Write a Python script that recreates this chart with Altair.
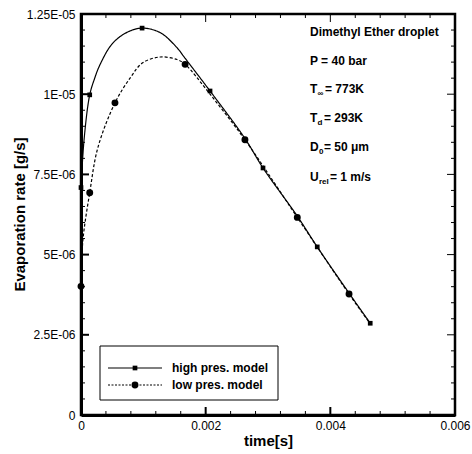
import altair as alt
import pandas as pd

series_names = ["high pres. model", "low pres. model"]

# curve samples (time in s, evaporation rate in g/s)
high_t = [0.0, 0.00005, 0.00014, 0.00022, 0.00030, 0.00050, 0.00074, 0.00098, 0.00127, 0.00154,
          0.00167, 0.00207, 0.00263, 0.00292, 0.00347, 0.00379, 0.00430, 0.00464]
high_v = [7.09e-6, 8.60e-6, 9.98e-6, 10.50e-6, 10.90e-6, 11.57e-6, 11.93e-6, 12.06e-6, 11.92e-6, 11.45e-6,
          11.12e-6, 10.10e-6, 8.62e-6, 7.70e-6, 6.20e-6, 5.24e-6, 3.80e-6, 2.86e-6]
low_t = [0.0, 0.00003, 0.00014, 0.00027, 0.000545, 0.00079, 0.00099, 0.00127, 0.00154,
         0.00167, 0.00207, 0.00263, 0.00347, 0.00430, 0.00462]
low_v = [4.01e-6, 5.44e-6, 6.93e-6, 8.33e-6, 9.73e-6, 10.51e-6, 10.98e-6, 11.16e-6, 11.08e-6,
         10.93e-6, 10.00e-6, 8.58e-6, 6.16e-6, 3.77e-6, 2.90e-6]

# symbols
high_mark_t = [0.0, 0.00014, 0.00098, 0.00207, 0.00292, 0.00379, 0.00464]
high_mark_v = [7.09e-6, 9.98e-6, 12.06e-6, 10.10e-6, 7.70e-6, 5.24e-6, 2.86e-6]
low_mark_t = [0.0, 0.00014, 0.000545, 0.00167, 0.00263, 0.00347, 0.00430]
low_mark_v = [4.01e-6, 6.93e-6, 9.73e-6, 10.93e-6, 8.58e-6, 6.16e-6, 3.77e-6]

# axes
x_major = [0.0, 0.002, 0.004, 0.006]
x_labels = ["0", "0.002", "0.004", "0.006"]
x_minor = [0.0004, 0.0008, 0.0012, 0.0016, 0.0024, 0.0028, 0.0032, 0.0036,
           0.0044, 0.0048, 0.0052, 0.0056]
y_major = [0.0, 2.5e-6, 5e-6, 7.5e-6, 1e-5, 1.25e-5]
y_labels = ["0", "2.5E-06", "5E-06", "7.5E-06", "1E-05", "1.25E-05"]
y_minor = [0.5e-6, 1.0e-6, 1.5e-6, 2.0e-6, 3.0e-6, 3.5e-6, 4.0e-6, 4.5e-6,
           5.5e-6, 6.0e-6, 6.5e-6, 7.0e-6, 8.0e-6, 8.5e-6, 9.0e-6, 9.5e-6,
           10.5e-6, 11.0e-6, 11.5e-6, 12.0e-6]

# annotation lines: (main, subscript, rest)
notes = [("Dimethyl Ether droplet", "", ""),
         ("P  = 40 bar", "", ""),
         ("T", "\u221e", "= 773K"),
         ("T", "d", "= 293K"),
         ("D", "0", "= 50 \u03bcm"),
         ("U", "rel", "= 1 m/s")]

FONT = "Liberation Sans"

curves = pd.concat([
    pd.DataFrame({"t": high_t, "v": high_v, "series": series_names[0]}),
    pd.DataFrame({"t": low_t, "v": low_v, "series": series_names[1]}),
])
marks = pd.concat([
    pd.DataFrame({"t": high_mark_t, "v": high_mark_v, "series": series_names[0]}),
    pd.DataFrame({"t": low_mark_t, "v": low_mark_v, "series": series_names[1]}),
])

def label_expr(vals, labs):
    return "[" + ",".join("'%s'" % s for s in labs) + "][indexof([" + \
        ",".join(repr(v) for v in vals) + "], datum.value)]"

xscale = alt.Scale(domain=[0, 0.006], nice=False, zero=False)
yscale = alt.Scale(domain=[0, 1.25e-5], nice=False, zero=False)

x_enc = alt.X("t:Q", scale=xscale, axis=alt.Axis(
    values=x_major, labelExpr=label_expr(x_major, x_labels), ticks=False, grid=False,
    domain=True, domainWidth=3, domainColor="black", labelFlush=False,
    labelFont=FONT, labelFontSize=12, labelColor="black", labelPadding=5,
    title="time[s]", titleFont=FONT, titleFontSize=15, titleFontWeight="bold",
    titleColor="black", titleBaseline="middle", titleY=25))
y_enc = alt.Y("v:Q", scale=yscale, axis=alt.Axis(
    values=y_major, labelExpr=label_expr(y_major, y_labels), ticks=False, grid=False,
    domain=True, domainWidth=3, domainColor="black",
    labelFont=FONT, labelFontSize=12, labelColor="black", labelPadding=6,
    title="Evaporation rate [g/s]", titleFont=FONT, titleFontSize=15, titleFontWeight="bold",
    titleColor="black", titleAngle=270, titleBaseline="middle", titleX=-62, titleY=200))

lines = alt.Chart(curves).mark_line(interpolate="catmull-rom", color="black", strokeWidth=1.2).encode(
    x=x_enc, y=y_enc,
    strokeDash=alt.StrokeDash("series:N", scale=alt.Scale(domain=series_names, range=[[1, 0], [3, 2]]),
                              legend=None),
    detail="series:N")

points = alt.Chart(marks).mark_point(filled=True, color="black", opacity=1).encode(
    x=alt.X("t:Q", scale=xscale), y=alt.Y("v:Q", scale=yscale),
    shape=alt.Shape("series:N", scale=alt.Scale(domain=series_names, range=["square", "circle"]), legend=None),
    size=alt.Size("series:N", scale=alt.Scale(domain=series_names, range=[22, 48]), legend=None))

# tick marks (inward, all four sides)
def yticks(vals, length, width):
    d = pd.DataFrame({"v": vals})
    left = alt.Chart(d).mark_rule(color="black", strokeWidth=width).encode(
        y=alt.Y("v:Q", scale=yscale), x=alt.value(0), x2=alt.value(length))
    right = alt.Chart(d).mark_rule(color="black", strokeWidth=1).encode(
        y=alt.Y("v:Q", scale=yscale), x=alt.value(374), x2=alt.value(374 - length))
    return [left, right]

def xticks(vals, length, width):
    d = pd.DataFrame({"t": vals})
    bottom = alt.Chart(d).mark_rule(color="black", strokeWidth=width).encode(
        x=alt.X("t:Q", scale=xscale), y=alt.value(401), y2=alt.value(401 - length))
    top = alt.Chart(d).mark_rule(color="black", strokeWidth=1).encode(
        x=alt.X("t:Q", scale=xscale), y=alt.value(0), y2=alt.value(length))
    return [bottom, top]

ticks = yticks(y_major, 8, 2) + yticks(y_minor, 4, 1) + xticks(x_major, 8, 2) + xticks(x_minor, 4, 1)

# annotation text
ann = []
row_y = [18, 47, 75, 104, 133, 163]
sub_x = [0, 0, 236.5, 236.5, 238, 238]
rest_x = [0, 0, 244, 243, 243, 249]
for i, (main, sub, rest) in enumerate(notes):
    d = pd.DataFrame({"s": [main]})
    ann.append(alt.Chart(d).mark_text(align="left", baseline="middle", font=FONT, fontSize=12,
                                       fontWeight="bold", color="black").encode(
        x=alt.value(229), y=alt.value(row_y[i]), text="s:N"))
    if sub:
        ann.append(alt.Chart(pd.DataFrame({"s": [sub]})).mark_text(
            align="left", baseline="middle", font=FONT, fontSize=8, fontWeight="bold", color="black").encode(
            x=alt.value(sub_x[i]), y=alt.value(row_y[i] + 5), text="s:N"))
        ann.append(alt.Chart(pd.DataFrame({"s": [rest]})).mark_text(
            align="left", baseline="middle", font=FONT, fontSize=12, fontWeight="bold", color="black").encode(
            x=alt.value(rest_x[i]), y=alt.value(row_y[i]), text="s:N"))

# legend box
leg_df = pd.DataFrame({"series": series_names})
leg_box = alt.Chart(leg_df.head(1)).mark_rect(fill="white", stroke="black", strokeWidth=1).encode(
    x=alt.value(19), x2=alt.value(197), y=alt.value(332), y2=alt.value(386))
leg_items = []
leg_y = [354, 371]
leg_dash = [[1, 0], [2, 1.5]]
leg_shape = ["square", "circle"]
leg_size = [22, 48]
for i, name in enumerate(series_names):
    d = pd.DataFrame({"s": [name]})
    leg_items.append(alt.Chart(d).mark_rule(color="black", strokeWidth=1.2, strokeDash=leg_dash[i]).encode(
        x=alt.value(27), x2=alt.value(81), y=alt.value(leg_y[i])))
    leg_items.append(alt.Chart(d).mark_point(filled=True, color="black", opacity=1, shape=leg_shape[i],
                                             size=leg_size[i]).encode(
        x=alt.value(54), y=alt.value(leg_y[i])))
    leg_items.append(alt.Chart(d).mark_text(align="left", baseline="middle", font=FONT, fontSize=12,
                                            fontWeight="bold", color="black").encode(
        x=alt.value(91), y=alt.value(leg_y[i]), text="s:N"))

chart = alt.layer(lines, points, *ticks, *ann, leg_box, *leg_items).properties(
    width=374, height=401,
    autosize=alt.AutoSizeParams(type="none"),
    padding={"left": 81, "top": 14, "right": 17, "bottom": 39},
    background="white",
).configure_view(stroke="black", strokeWidth=2.5)

chart.save("out.html", embed_options={"renderer": "svg", "actions": False})
